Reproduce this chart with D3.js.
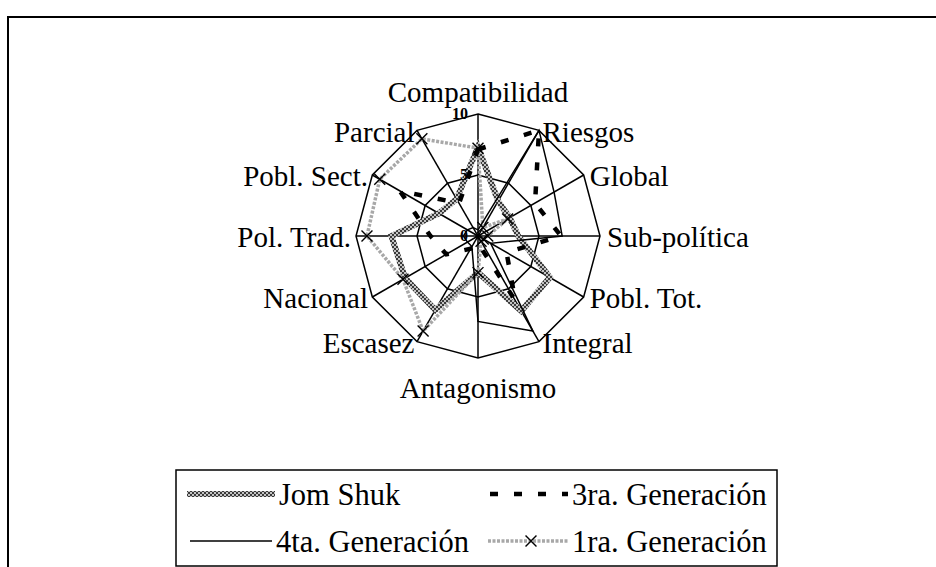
<!DOCTYPE html>
<html lang="es">
<head>
<meta charset="UTF-8">
<title>Radar</title>
<script src="https://cdnjs.cloudflare.com/ajax/libs/d3/7.8.5/d3.min.js"></script>
<style>
  body { margin: 0; padding: 0; background: #fff; }
  svg { display: block; font-family: "Liberation Serif", "Times New Roman", serif; }
</style>
</head>
<body>
<div id="chart"></div>
<script>
// axes, clockwise from the top
const axes = ["Compatibilidad", "Riesgos", "Global", "Sub-política", "Pobl. Tot.", "Integral",
              "Antagonismo", "Escasez", "Nacional", "Pol. Trad.", "Pobl. Sect.", "Parcial"];
const ticks = [0, 5, 10];

const jomShuk = [7.3, 3.3, 3.0, 3.3, 6.8, 7.1, 3.0, 7.0, 6.9, 7.1, 3.7, 3.5];
const gen3    = [7.1, 10, 5.4, 6.8, 2.7, 6.1, 0.6, 1.2, 3.0, 3.9, 7.4, 3.1];
const gen4    = [0.5, 10, 7.2, 6.9, 1.2, 9.0, 7.0, 1.0, 1.0, 1.2, 1.0, 0.8];
const gen1    = [7.2, 0.8, 2.8, 0.8, 0.5, 0.5, 3.0, 9.0, 7.1, 9.1, 9.3, 9.2];

const width = 936, height = 567;
const cx = 478, cy = 236, R = 122;

const svg = d3.select("#chart").append("svg")
    .attr("width", width).attr("height", height);

// checkered stroke for Jom Shuk
const defs = svg.append("defs");
const pat = defs.append("pattern").attr("id", "checker")
    .attr("width", 4).attr("height", 4).attr("patternUnits", "userSpaceOnUse");
pat.append("rect").attr("width", 4).attr("height", 4).attr("fill", "#c4c4c4");
pat.append("rect").attr("width", 2).attr("height", 2).attr("fill", "#3a3a3a");
pat.append("rect").attr("x", 2).attr("y", 2).attr("width", 2).attr("height", 2).attr("fill", "#3a3a3a");

// outer frame (cut off at right and bottom)
svg.append("rect").attr("x", 8).attr("y", 17).attr("width", 940).attr("height", 570)
    .attr("fill", "none").attr("stroke", "#000").attr("stroke-width", 2);

const r = d3.scaleLinear().domain([0, 10]).range([0, R]);
const angle = i => i * 2 * Math.PI / axes.length;

const g = svg.append("g").attr("transform", `translate(${cx},${cy})`);

// grid polygons
const ring = d3.lineRadial().angle((d, i) => angle(i)).radius(d => r(d)).curve(d3.curveLinearClosed);
ticks.filter(t => t > 0).forEach(t => {
  g.append("path").attr("d", ring(axes.map(() => t)))
    .attr("fill", "none").attr("stroke", "#000").attr("stroke-width", 1.5);
});

// spokes
g.selectAll(".spoke").data(axes).enter().append("line")
    .attr("x1", 0).attr("y1", 0)
    .attr("x2", (d, i) => r(10) * Math.sin(angle(i)))
    .attr("y2", (d, i) => -r(10) * Math.cos(angle(i)))
    .attr("stroke", "#000").attr("stroke-width", 1.5);

// series
const series = [
  { name: "Jom Shuk", values: jomShuk, stroke: "url(#checker)", width: 6, dash: null },
  { name: "1ra. Generación", values: gen1, stroke: "#a8a8a8", width: 3.5, dash: "3 1.5", marker: true },
  { name: "3ra. Generación", values: gen3, stroke: "#000", width: 4.5, dash: "8 16" },
  { name: "4ta. Generación", values: gen4, stroke: "#000", width: 1.5, dash: null }
];

series.forEach(s => {
  g.append("path").attr("d", ring(s.values))
    .attr("fill", "none").attr("stroke", s.stroke).attr("stroke-width", s.width)
    .attr("stroke-dasharray", s.dash).attr("stroke-linejoin", "miter");
});

// x markers for 1ra. Generación
const xMark = d3.symbol().type(d3.symbolX).size(80);
g.selectAll(".mk").data(gen1).enter().append("path")
    .attr("d", xMark)
    .attr("transform", (d, i) => `translate(${r(d) * Math.sin(angle(i))},${-r(d) * Math.cos(angle(i))})`)
    .attr("stroke", "#000").attr("stroke-width", 1.4).attr("fill", "none");

// tick labels
g.selectAll(".tick").data(ticks).enter().append("text")
    .attr("x", -10).attr("y", d => -r(d) + 4.5)
    .attr("text-anchor", "end")
    .attr("font-size", 16).attr("font-weight", "bold")
    .text(d => d);

// axis labels
g.selectAll(".lab").data(axes).enter().append("text")
    .attr("x", (d, i) => {
      const s = Math.sin(angle(i));
      return (R + (s > 0.01 ? 7 : 5)) * s;
    })
    .attr("y", (d, i) => {
      if (i === 0) return -R - 22;
      if (i === 6) return R + 30;
      return -R * Math.cos(angle(i)) + 1;
    })
    .attr("dy", "0.35em")
    .attr("text-anchor", (d, i) => {
      const s = Math.sin(angle(i));
      return Math.abs(s) < 0.01 ? "middle" : (s > 0 ? "start" : "end");
    })
    .attr("font-size", 29)
    .text(d => d);

// legend
const lg = svg.append("g");
lg.append("rect").attr("x", 176).attr("y", 470).attr("width", 601).attr("height", 96)
    .attr("fill", "#fff").attr("stroke", "#000").attr("stroke-width", 1.5);

const legendPos = [
  { s: series[0], x: 187, y: 494, len: 88 },
  { s: series[2], x: 490, y: 494, len: 78 },
  { s: series[3], x: 190, y: 541, len: 82 },
  { s: series[1], x: 488, y: 541, len: 80 }
];
legendPos.forEach(p => {
  lg.append("line").attr("x1", p.x).attr("x2", p.x + p.len).attr("y1", p.y).attr("y2", p.y)
    .attr("stroke", p.s.stroke).attr("stroke-width", p.s.width).attr("stroke-dasharray", p.s.dash);
  if (p.s.marker) {
    lg.append("path").attr("d", xMark).attr("transform", `translate(${p.x + 43},${p.y})`)
      .attr("stroke", "#000").attr("stroke-width", 1.4).attr("fill", "none");
  }
  lg.append("text").attr("x", p.x + p.len + 4).attr("y", p.y).attr("dy", "0.35em")
    .attr("font-size", 30.5).text(p.s.name);
});
</script>
</body>
</html>
